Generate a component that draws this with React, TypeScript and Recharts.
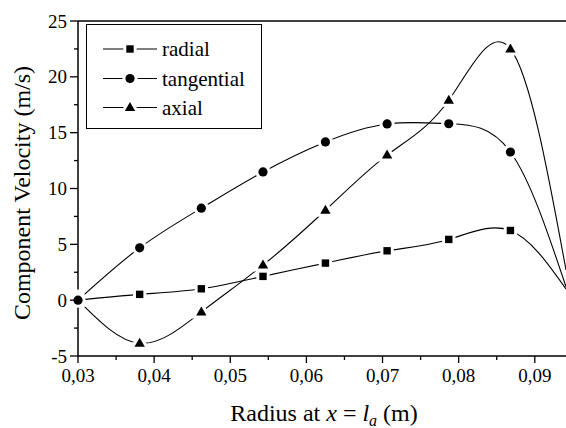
import React from "react"
import { LineChart, Line, XAxis, YAxis, Legend, ReferenceLine } from "recharts"

// radius positions (m); the last one is where the curves leave the frame
const radius = [0.03, 0.0381, 0.0462, 0.0543, 0.0625, 0.0706, 0.0787, 0.0868, 0.0941]
const radial = [0, 0.52, 1.02, 2.13, 3.32, 4.42, 5.44, 6.24, 1.0]
const tangential = [0, 4.69, 8.24, 11.48, 14.17, 15.78, 15.8, 13.27, 1.2]
const axial = [0, -3.86, -1.06, 3.14, 8.05, 12.99, 17.9, 22.5, 2.7]

const xTicks = [0.03, 0.035, 0.04, 0.045, 0.05, 0.055, 0.06, 0.065, 0.07, 0.075, 0.08, 0.085, 0.09]
const yTicks = [-5, -2.5, 0, 2.5, 5, 7.5, 10, 12.5, 15, 17.5, 20, 22.5, 25]

const seriesNames = ["radial", "tangential", "axial"]
const seriesShapes = ["square", "circle", "triangle"]

const data = radius.map((x, i) => ({
  x,
  radial: radial[i],
  tangential: tangential[i],
  axial: axial[i],
}))

const font = "'Times New Roman', 'Liberation Serif', 'DejaVu Serif', serif"

function Marker({ shape, cx, cy }: { shape: string; cx: number; cy: number }) {
  const common = { fill: "#000", stroke: "#fff", strokeWidth: 6, paintOrder: "stroke" as const }
  if (shape === "square") {
    return <rect x={cx - 3.7} y={cy - 3.7} width={7.4} height={7.4} {...common} />
  }
  if (shape === "circle") {
    return <circle cx={cx} cy={cy} r={4.6} {...common} />
  }
  return (
    <polygon
      points={`${cx},${cy - 5.5} ${cx + 5.2},${cy + 3.5} ${cx - 5.2},${cy + 3.5}`}
      {...common}
    />
  )
}

const makeDot = (shape: string) => (p: any) => {
  if (p.index === radius.length - 1) return <g key={p.index} />
  return (
    <g key={p.index}>
      <Marker shape={shape} cx={p.cx} cy={p.cy} />
    </g>
  )
}

function XTick(props: any) {
  const { x, y, payload } = props
  const v = payload.value
  const major = Math.abs(v * 100 - Math.round(v * 100)) < 1e-6
  return (
    <g>
      <line x1={x} x2={x} y1={y} y2={y + (major ? 7 : 4)} stroke="#000" strokeWidth={1.3} />
      {major && (
        <text x={x} y={y + 26} textAnchor="middle" fontSize={19} style={{ fontFamily: font }} fill="#000">
          {v.toFixed(2).replace(".", ",")}
        </text>
      )}
    </g>
  )
}

function YTick(props: any) {
  const { x, y, payload } = props
  const v = payload.value
  const major = v % 5 === 0
  return (
    <g>
      <line x1={x - (major ? 8 : 4)} x2={x} y1={y} y2={y} stroke="#000" strokeWidth={1.3} />
      {major && (
        <text x={x - 11} y={y + 6.5} textAnchor="end" fontSize={19} style={{ fontFamily: font }} fill="#000">
          {String(v)}
        </text>
      )}
    </g>
  )
}

function XTitle(props: any) {
  const vb = props.viewBox || { x: 78, y: 356, width: 488 }
  return (
    <text
      x={vb.x + vb.width / 2 + 2}
      y={421}
      textAnchor="middle"
      fontSize={24}
      style={{ fontFamily: font }}
      fill="#000"
    >
      Radius at <tspan fontStyle="italic">x</tspan> = <tspan fontStyle="italic">l</tspan>
      <tspan fontStyle="italic" fontSize={16} dy={5}>a</tspan>
      <tspan dy={-5}> (m)</tspan>
    </text>
  )
}

function YTitle() {
  return (
    <text
      x={29.5}
      y={193}
      transform="rotate(-90 29.5 193)"
      textAnchor="middle"
      fontSize={24}
      style={{ fontFamily: font }}
      fill="#000"
    >
      Component Velocity (m/s)
    </text>
  )
}

function LegendBox() {
  const rows = [24, 53.5, 82.5]
  return (
    <div
      style={{
        width: 176,
        height: 105,
        border: "1.5px solid #000",
        boxSizing: "border-box",
        background: "#fff",
      }}
    >
      <svg width={173} height={102} style={{ display: "block" }}>
        {seriesNames.map((name, i) => (
          <g key={name}>
            <line x1={16} x2={70} y1={rows[i]} y2={rows[i]} stroke="#000" strokeWidth={1.1} />
            <Marker shape={seriesShapes[i]} cx={43} cy={rows[i]} />
            <text x={75} y={rows[i] + 7} fontSize={21} style={{ fontFamily: font }} fill="#000">
              {name}
            </text>
          </g>
        ))}
      </svg>
    </div>
  )
}

export default function App() {
  return (
    <div style={{ position: "absolute", left: 0, top: 0, background: "#fff", fontFamily: font }}>
      <LineChart width={566} height={428} data={data} margin={{ top: 21, right: 0, bottom: 0, left: 0 }}>
        <XAxis
          type="number"
          dataKey="x"
          domain={[0.03, 0.0941]}
          ticks={xTicks}
          interval={0}
          height={72}
          tickSize={0}
          tickMargin={0}
          tickLine={false}
          tick={<XTick />}
          axisLine={{ stroke: "#000", strokeWidth: 1.5 }}
          label={<XTitle />}
        />
        <YAxis
          type="number"
          domain={[-5, 25]}
          ticks={yTicks}
          interval={0}
          width={78}
          tickSize={0}
          tickMargin={0}
          tickLine={false}
          tick={<YTick />}
          axisLine={{ stroke: "#000", strokeWidth: 1.5 }}
          label={<YTitle />}
        />
        <ReferenceLine y={25} stroke="#000" strokeWidth={1.5} />
        <Legend
          layout="vertical"
          align="center"
          verticalAlign="middle"
          content={() => <LegendBox />}
          wrapperStyle={{ left: 86, top: 24, width: 176, height: 105, margin: 0 }}
        />
        <Line
          type="natural"
          dataKey="radial"
          stroke="#000"
          strokeWidth={1.1}
          dot={makeDot("square")}
          activeDot={false}
          isAnimationActive={false}
        />
        <Line
          type="natural"
          dataKey="axial"
          stroke="#000"
          strokeWidth={1.1}
          dot={makeDot("triangle")}
          activeDot={false}
          isAnimationActive={false}
        />
        <Line
          type="natural"
          dataKey="tangential"
          stroke="#000"
          strokeWidth={1.1}
          dot={makeDot("circle")}
          activeDot={false}
          isAnimationActive={false}
        />
      </LineChart>
    </div>
  )
}
